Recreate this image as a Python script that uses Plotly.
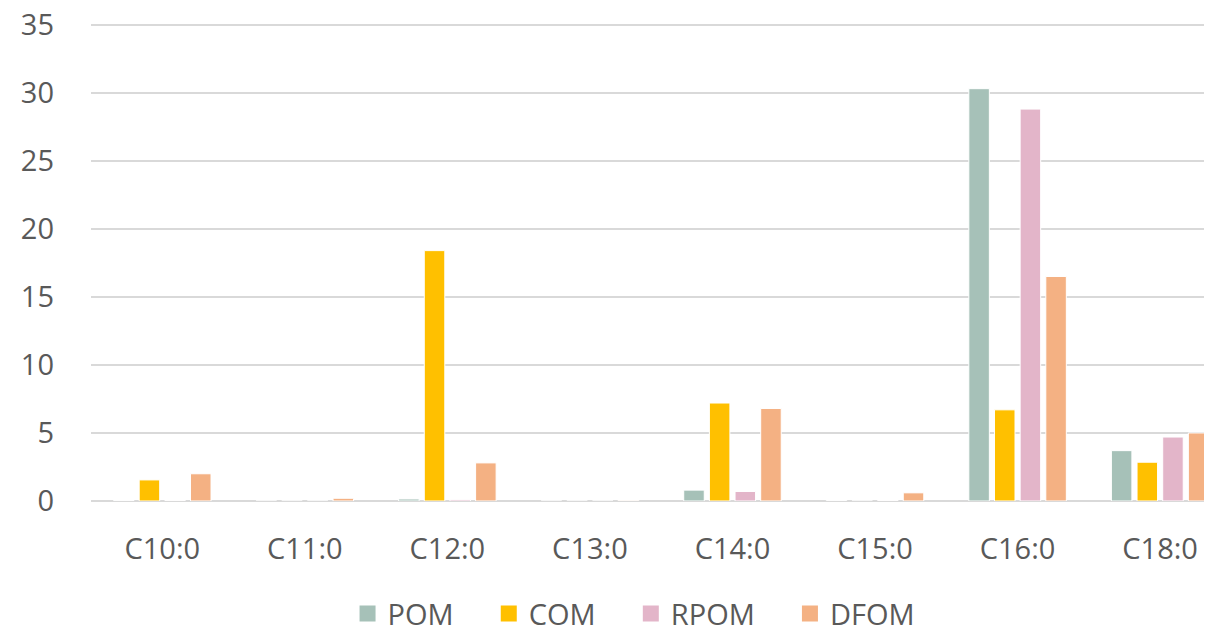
import plotly.graph_objects as go

categories = ["C10:0", "C11:0", "C12:0", "C13:0", "C14:0", "C15:0", "C16:0", "C18:0"]
pom = [0.03, 0.0, 0.15, 0.0, 0.8, 0.03, 30.3, 3.7]
com = [1.55, 0.0, 18.4, 0.0, 7.2, 0.0, 6.7, 2.85]
rpom = [0.03, 0.0, 0.1, 0.0, 0.7, 0.03, 28.8, 4.7]
dfom = [2.0, 0.2, 2.8, 0.05, 6.8, 0.6, 16.5, 5.0]
y_ticks = [0, 5, 10, 15, 20, 25, 30, 35]

series = [("POM", pom, "#A6C1B8"), ("COM", com, "#FFC000"),
          ("RPOM", rpom, "#E3B5C9"), ("DFOM", dfom, "#F4B183")]

fig = go.Figure()
for name, vals, col in series:
    fig.add_trace(go.Bar(x=categories, y=vals, name=name, showlegend=False,
                         marker=dict(color=col, line=dict(color="white", width=1))))
# legend entries with larger square swatches
pad = "\u00a0" * 4
for i, (name, vals, col) in enumerate(series):
    label = name + (pad if i < len(series) - 1 else "")
    fig.add_trace(go.Scatter(x=[None], y=[None], mode="markers", name=label,
                             marker=dict(symbol="square", size=18, color=col)))

font_fam = "Open Sans, Lato, sans-serif"
fig.update_layout(
    width=1212, height=631,
    barmode="group", bargap=0.28, bargroupgap=0.2,
    plot_bgcolor="white", paper_bgcolor="white",
    margin=dict(l=83, r=0, t=14, b=138, autoexpand=False),
    font=dict(family=font_fam, color="#595959", size=29),
    xaxis=dict(range=[-0.5, 7.42], showgrid=False, showline=False, ticks="",
               tickfont=dict(size=29), ticklabelstandoff=28, automargin=False),
    yaxis=dict(range=[0, 35.2], tickmode="array", tickvals=y_ticks,
               ticktext=[str(v) for v in y_ticks], ticklabeloverflow="allow",
               showgrid=True, gridcolor="#D9D9D9", gridwidth=1.5,
               zeroline=True, zerolinecolor="#D9D9D9", zerolinewidth=1.5,
               tickfont=dict(size=29), ticklabelstandoff=36, automargin=False),
    legend=dict(orientation="h", x=0.481, xanchor="center", y=-0.235, yanchor="middle",
                font=dict(size=29), itemwidth=30, traceorder="normal"),
    showlegend=True,
)
fig.write_html("out.html")
